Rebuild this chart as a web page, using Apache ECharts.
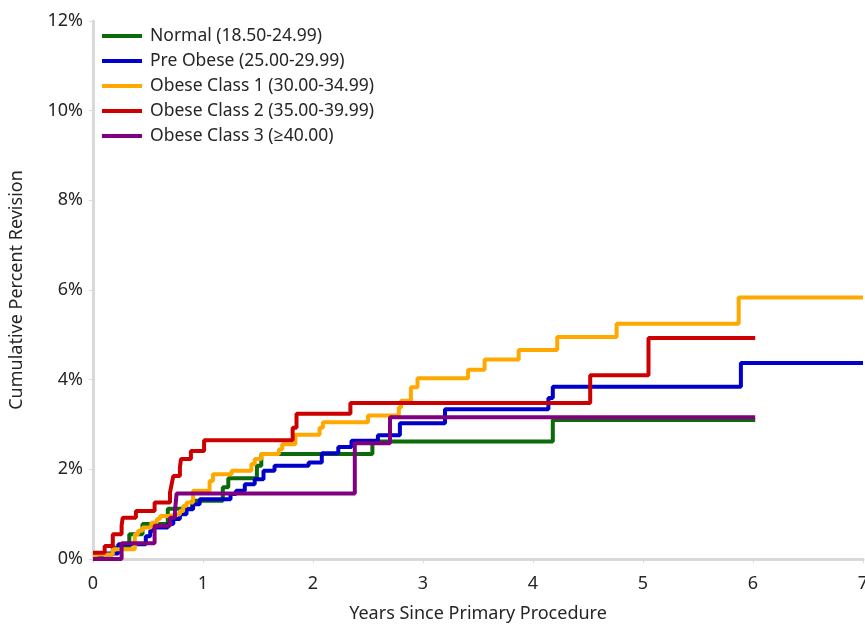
<!DOCTYPE html>
<html>
<head>
<meta charset="utf-8">
<script src="https://cdn.jsdelivr.net/npm/echarts@6/dist/echarts.min.js"></script>
<style>
  html, body { margin: 0; padding: 0; background: #fff; }
  #chart { width: 865px; height: 628px; }
</style>
</head>
<body>
<div id="chart"></div>
<script>
// Cumulative percent revision
const seriesNames = [
  'Normal (18.50-24.99)',
  'Pre Obese (25.00-29.99)',
  'Obese Class 1 (30.00-34.99)',
  'Obese Class 2 (35.00-39.99)',
  'Obese Class 3 (\u226540.00)'
];
const seriesColors = ['#0b6b0b', '#0000cc', '#ffa800', '#cc0000', '#800080'];

const normalYears = [0, 0.05, 0.18, 0.33, 0.45, 0.68, 0.9, 1.18, 1.23, 1.49, 1.53, 2.54, 4.18, 6.02];
const normalPct   = [0, 0.10, 0.25, 0.55, 0.78, 1.12, 1.30, 1.60, 1.80, 2.08, 2.34, 2.62, 3.10, 3.10];

const preObeseYears = [0, 0.08, 0.23, 0.48, 0.52, 0.55, 0.68, 0.73, 0.79, 0.85, 0.91, 0.97, 1.25, 1.30, 1.38, 1.47, 1.55, 1.65, 1.96, 2.08, 2.23, 2.35, 2.59, 2.79, 3.20, 4.14, 4.18, 5.89, 7.0];
const preObesePct   = [0, 0.12, 0.33, 0.51, 0.63, 0.70, 0.78, 0.89, 1.00, 1.11, 1.22, 1.33, 1.45, 1.52, 1.67, 1.78, 1.97, 2.08, 2.15, 2.36, 2.50, 2.64, 2.76, 3.03, 3.34, 3.59, 3.84, 4.37, 4.37];

const class1Years = [0, 0.02, 0.18, 0.38, 0.41, 0.45, 0.53, 0.58, 0.61, 0.68, 0.79, 0.82, 0.85, 0.91, 1.06, 1.09, 1.26, 1.44, 1.47, 1.53, 1.69, 1.72, 1.84, 2.06, 2.09, 2.50, 2.78, 2.80, 2.89, 2.95, 3.41, 3.56, 3.87, 4.22, 4.76, 5.87, 7.0];
const class1Pct   = [0, 0.10, 0.22, 0.55, 0.63, 0.70, 0.81, 0.89, 0.96, 1.00, 1.07, 1.18, 1.26, 1.52, 1.74, 1.89, 1.97, 2.12, 2.23, 2.34, 2.45, 2.56, 2.77, 2.93, 3.05, 3.20, 3.38, 3.53, 3.83, 4.03, 4.22, 4.45, 4.66, 4.95, 5.25, 5.83, 5.83];

const class2Years = [0, 0.106, 0.18, 0.26, 0.27, 0.39, 0.56, 0.70, 0.715, 0.73, 0.79, 0.80, 0.89, 1.01, 1.815, 1.85, 2.34, 4.52, 5.05, 6.02];
const class2Pct   = [0.14, 0.29, 0.55, 0.74, 0.92, 1.07, 1.26, 1.48, 1.67, 1.85, 2.04, 2.23, 2.41, 2.65, 2.93, 3.24, 3.48, 4.10, 4.93, 4.93];

const class3Years = [0, 0.26, 0.56, 0.70, 0.745, 0.76, 2.38, 2.70, 6.02];
const class3Pct   = [0, 0.35, 0.74, 0.92, 1.07, 1.46, 2.58, 3.16, 3.16];

const xTicks = [0, 1, 2, 3, 4, 5, 6, 7];

const allYears = [normalYears, preObeseYears, class1Years, class2Years, class3Years];
const allPct = [normalPct, preObesePct, class1Pct, class2Pct, class3Pct];

const chart = echarts.init(document.getElementById('chart'));
const font = "'Noto Sans', 'Open Sans', sans-serif";
const axisGrey = '#d9d9d9';
const textColor = '#262626';

const series = seriesNames.map((name, i) => ({
  name: name,
  type: 'line',
  step: 'end',
  symbol: 'none',
  data: allYears[i].map((t, j) => [t, allPct[i][j]]),
  lineStyle: { width: 4, color: seriesColors[i] },
  itemStyle: { color: seriesColors[i] },
  z: 2 + i
}));

chart.setOption({
  animation: false,
  textStyle: { fontFamily: font },
  grid: { left: 93, right: 2, top: 21, bottom: 69, outerBoundsMode: 'none' },
  legend: {
    orient: 'vertical',
    left: 97,
    top: 21,
    icon: 'rect',
    itemWidth: 40,
    itemHeight: 4,
    itemGap: 5,
    textStyle: { fontSize: 17.5, color: textColor, fontFamily: font, lineHeight: 20, padding: [0, 0, 0, 3] },
    data: seriesNames
  },
  xAxis: {
    type: 'value',
    min: xTicks[0],
    max: xTicks[xTicks.length - 1],
    interval: 1,
    name: 'Years Since Primary Procedure',
    nameLocation: 'middle',
    nameGap: 46,
    nameTextStyle: { fontSize: 18, color: textColor },
    axisLine: { show: true, lineStyle: { color: axisGrey, width: 3 } },
    axisTick: { show: true, length: 4, lineStyle: { color: axisGrey } },
    axisLabel: { fontSize: 18, color: textColor, margin: 16 },
    splitLine: { show: false }
  },
  yAxis: {
    type: 'value',
    min: 0,
    max: 12,
    interval: 2,
    name: 'Cumulative Percent Revision',
    nameLocation: 'middle',
    nameGap: 67,
    nameTextStyle: { fontSize: 18, color: textColor },
    axisLine: { show: true, lineStyle: { color: axisGrey, width: 3 } },
    axisTick: { show: true, length: 4, lineStyle: { color: axisGrey } },
    axisLabel: { fontSize: 18, color: textColor, margin: 10, formatter: '{value}%' },
    splitLine: { show: false }
  },
  series: series
});
</script>
</body>
</html>
